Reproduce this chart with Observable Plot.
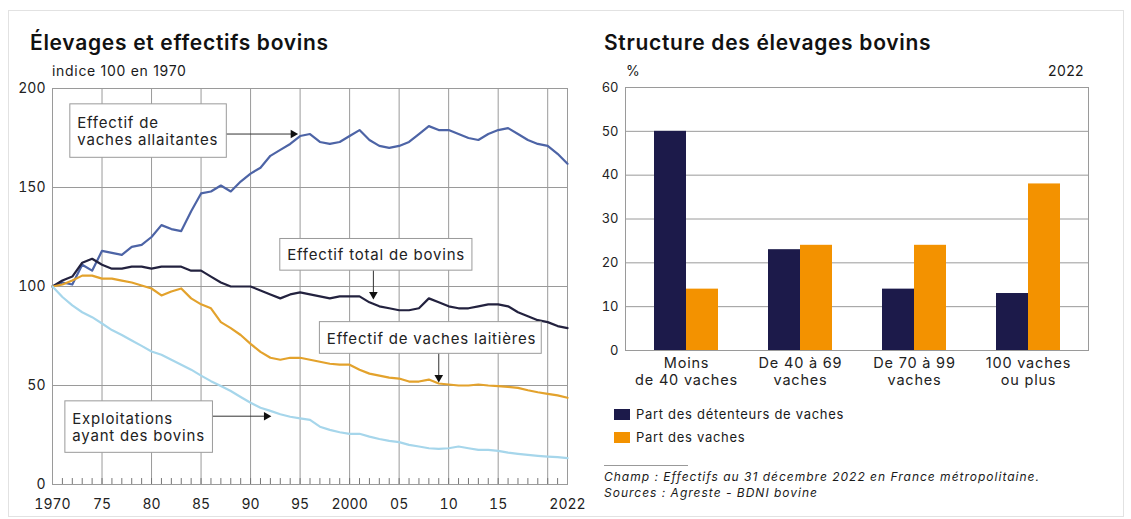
<!DOCTYPE html>
<html><head><meta charset="utf-8">
<script src="https://cdn.jsdelivr.net/npm/d3@7"></script>
<script src="https://cdn.jsdelivr.net/npm/@observablehq/plot@0.6"></script>
<style>
body{margin:0;background:#fff;font-family:Inter,"Open Sans",sans-serif;color:#1a1a1a;width:1131px;height:519px;position:relative;overflow:hidden}
.abs{position:absolute;white-space:nowrap}
.title{font-size:21px;font-weight:600;color:#111;letter-spacing:0.7px}
.sw{display:inline-block;width:16px;height:11px;vertical-align:middle;margin-right:6px;position:relative;top:-1px}
.leg{font-size:13px;letter-spacing:0.7px}
#left g[aria-label="text"] text{letter-spacing:0.8px}
#right g[aria-label="x-axis tick label"] text{letter-spacing:0.8px}
</style></head>
<body>
<div class="abs" style="left:8px;top:10px;width:1114px;height:505px;border:1px solid #e2e2e2"></div>
<div class="abs title" style="left:30px;top:30px">Élevages et effectifs bovins</div>
<div class="abs" style="left:52px;top:62px;font-size:14px;letter-spacing:0.7px">indice 100 en 1970</div>
<div class="abs title" style="left:604px;top:30px">Structure des élevages bovins</div>
<div class="abs" style="left:626px;top:62px;font-size:14px">%</div>
<div class="abs" style="left:1048px;top:62px;font-size:14px;letter-spacing:0.4px">2022</div>
<div id="left" class="abs" style="left:0;top:80px"></div>
<div id="right" class="abs" style="left:590px;top:78px"></div>
<div class="abs leg" style="left:614px;top:406px"><span class="sw" style="background:#1c1a4a"></span>Part des détenteurs de vaches</div>
<div class="abs leg" style="left:614px;top:429px"><span class="sw" style="background:#f39200"></span>Part des vaches</div>
<div class="abs" style="left:604px;top:465px;width:84px;border-top:1px solid #999"></div>
<div class="abs" style="left:604px;top:469px;font-size:12px;font-style:italic;line-height:16px;letter-spacing:1px">Champ : Effectifs au 31 décembre 2022 en France métropolitaine.<br>Sources : Agreste - BDNI bovine</div>
<script>
const years = d3.range(1970, 2023);
const allaitantes = [100,102,101,111,108,118,117,116,120,121,125,131,129,128,138,147,148,151,148,153,157,160,166,169,172,176,177,173,172,173,176,179,174,171,170,171,173,177,181,179,179,177,175,174,177,179,180,177,174,172,171,167,162];
const totalBovins = [100,103,105,112,114,111,109,109,110,110,109,110,110,110,108,108,105,102,100,100,100,98,96,94,96,97,96,95,94,95,95,95,92,90,89,88,88,89,94,92,90,89,89,90,91,91,90,87,85,83,82,80,79];
const laitieres = [100,101,103,105.5,105.5,104,104,103,102,100.5,99,95.5,97.5,99,94,91,89,82,79,75.5,71,67,64,63,64,64,63,62,61,60.5,60.5,58,56,55,54,53.5,52,52,53,51,50.5,50,50,50.5,50,49.7,49.3,48.8,47.6,46.6,45.8,45,43.8];
const exploitations = [100,94.7,90.5,87,84.5,81.3,78,75.5,72.7,70,67.2,65.5,63,60.5,58,55,52.2,49.7,47.2,44.2,41.3,38.8,37.2,35.5,34.2,33.4,32.6,29.2,27.6,26.4,25.6,25.6,24.2,23,22,21.4,20,19.2,18.3,18,18.3,19.2,18.3,17.5,17.5,17,16.1,15.5,15,14.5,14.1,13.8,13.3];
const seriesNames = ["Effectif de vaches allaitantes","Effectif total de bovins","Effectif de vaches laitières","Exploitations ayant des bovins"];
const seriesColors = ["#4d64a6","#23223f","#e3a22c","#a6d6eb"];
const xTickValues = [1970,1975,1980,1985,1990,1995,2000,2005,2010,2015,2022];
const xTickLabels = ["1970","75","80","85","90","95","2000","05","10","15","2022"];
const xGridYears = [1975,1980,1985,1990,1995,2000,2005,2010,2015,2020];
const yTicksLeft = [0,50,100,150,200];

const annoBoxes = [
  {x1:1971.8,x2:1987.6,y1:165,y2:192,label:"Effectif de\nvaches allaitantes"},
  {x1:1993.0,x2:2012.4,y1:108,y2:124,label:"Effectif total de bovins"},
  {x1:1997.0,x2:2019.4,y1:66,y2:82,label:"Effectif de vaches laitières"},
  {x1:1971.3,x2:1986.2,y1:16,y2:42,label:"Exploitations\nayant des bovins"}
];
const annoArrows = [
  {x1:1987.6,y1:177,x2:1994.3,y2:177,rot:90},
  {x1:2002.4,y1:108,x2:2002.4,y2:96,rot:180},
  {x1:2009,y1:66,x2:2009,y2:54,rot:180},
  {x1:1986.2,y1:34.5,x2:1991.6,y2:34.5,rot:90}
];

const allSeries = [allaitantes,totalBovins,laitieres,exploitations];
const lineData = allSeries.flatMap((arr,i)=>arr.map((v,j)=>({year:years[j],value:v,serie:seriesNames[i]})));

const left = Plot.plot({
  width: 600, height: 440,
  marginLeft: 52, marginRight: 33, marginTop: 8, marginBottom: 36,
  style: {fontFamily: "Inter, sans-serif", fontSize: "14px", color: "#222", background: "transparent"},
  x: {domain: [1970, 2022]},
  y: {domain: [0, 200]},
  color: {domain: seriesNames, range: seriesColors},
  marks: [
    Plot.ruleY([50,100,150], {stroke: "#9a9a9a", strokeWidth: 1}),
    Plot.ruleX(xGridYears, {stroke: "#9a9a9a", strokeWidth: 1}),
    Plot.ruleX(years, {y1: 0, y2: 3, stroke: "#777"}),
    Plot.frame({stroke: "#9a9a9a"}),
    Plot.axisX({ticks: xTickValues, tickFormat: d => xTickLabels[xTickValues.indexOf(d)], tickSize: 0, tickPadding: 15, fontSize: 14}),
    Plot.axisY({ticks: yTicksLeft, tickSize: 0, tickPadding: 7, fontSize: 14}),
    Plot.line(lineData, {x: "year", y: "value", z: "serie", stroke: "serie", strokeWidth: 2.2, strokeLinejoin: "round"}),
    Plot.rect(annoBoxes, {x1: "x1", x2: "x2", y1: "y1", y2: "y2", fill: "white", stroke: "#9a9a9a"}),
    Plot.text(annoBoxes, {x: d => d.x1 + 0.7, y: d => (d.y1 + d.y2) / 2, text: "label", textAnchor: "start", lineAnchor: "middle", fontSize: 15, lineHeight: 1.15, fill: "#222"}),
    Plot.link(annoArrows, {x1: "x1", y1: "y1", x2: "x2", y2: "y2", stroke: "#333", strokeWidth: 1}),
    Plot.dot(annoArrows, {x: "x2", y: "y2", symbol: "triangle", r: 3.2, rotate: "rot", fill: "#111", stroke: "none"})
  ]
});
document.getElementById("left").append(left);

const categories = ["Moins\nde 40 vaches","De 40 à 69\nvaches","De 70 à 99\nvaches","100 vaches\nou plus"];
const partDetenteurs = [50,23,14,13];
const partVaches = [14,24,24,38];
const yTicksRight = [0,10,20,30,40,50,60];
const barRows = categories.map((c,i)=>({cat:c, det:partDetenteurs[i], vac:partVaches[i]}));

const right = Plot.plot({
  width: 541, height: 320,
  marginLeft: 35, marginRight: 43, marginTop: 9, marginBottom: 48,
  style: {fontFamily: "Inter, sans-serif", fontSize: "13.5px", color: "#222", background: "transparent"},
  x: {domain: categories, paddingInner: 0.44, paddingOuter: 0.25, label: null},
  y: {domain: [0, 60], label: null},
  marks: [
    Plot.ruleY([10,20,30,40,50], {stroke: "#9a9a9a"}),
    Plot.frame({stroke: "#9a9a9a"}),
    Plot.barY(barRows, {x: "cat", y: "det", fill: "#1c1a4a", insetRight: 32}),
    Plot.barY(barRows, {x: "cat", y: "vac", fill: "#f39200", insetLeft: 32}),
    Plot.axisX({tickSize: 0, tickPadding: 6, fontSize: 14.5, lineHeight: 1.15, label: null}),
    Plot.axisY({ticks: yTicksRight, tickSize: 0, tickPadding: 7, fontSize: 13, label: null})
  ]
});
document.getElementById("right").append(right);
</script>
</body></html>
